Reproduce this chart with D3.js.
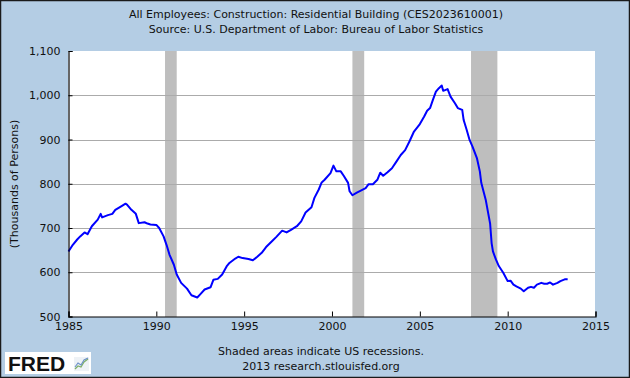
<!DOCTYPE html>
<html>
<head>
<meta charset="utf-8">
<script src="https://cdn.jsdelivr.net/npm/d3@7"></script>
<style>
  body { margin: 0; padding: 0; }
  text { font-family: "DejaVu Sans", Verdana, sans-serif; fill: #111; }
</style>
</head>
<body>
<div id="chart"></div>
<script>
// monthly readings (thousands of persons)
var months = ["1985-01","1985-04","1985-07","1985-09","1985-12","1986-02","1986-05","1986-09","1986-11","1986-12",
  "1987-04","1987-07","1987-09","1988-01","1988-04","1988-05","1988-08","1988-11","1989-01","1989-05",
  "1989-07","1989-09","1990-01","1990-03","1990-06","1990-08","1990-10","1991-01","1991-03","1991-06",
  "1991-10","1992-01","1992-05","1992-07","1992-10","1993-02","1993-04","1993-07","1993-10","1994-01",
  "1994-03","1994-07","1994-09","1994-12","1995-04","1995-07","1995-10","1996-01","1996-04","1996-08",
  "1996-11","1997-03","1997-06","1997-09","1998-01","1998-04","1998-07","1998-11","1999-01","1999-04",
  "1999-06","1999-08","1999-12","2000-02","2000-04","2000-07","2000-09","2000-12","2001-01","2001-03",
  "2001-06","2001-09","2001-12","2002-02","2002-05","2002-08","2002-10","2002-12","2003-03","2003-06",
  "2003-09","2003-12","2004-03","2004-06","2004-09","2005-01","2005-04","2005-06","2005-08","2005-10",
  "2005-12","2006-02","2006-04","2006-05","2006-08","2006-10","2007-01","2007-03","2007-06","2007-07",
  "2007-09","2007-11","2008-01","2008-04","2008-06","2008-07","2008-10","2009-01","2009-02","2009-03",
  "2009-05","2009-07","2009-10","2010-01","2010-03","2010-05","2010-07","2010-10","2010-12","2011-03",
  "2011-05","2011-07","2011-09","2011-12","2012-02","2012-04","2012-06","2012-08","2012-11","2013-01",
  "2013-04","2013-06"];

var employees = [647,662,674,681,690,686,704,719,732,724,
  729,732,741,749,755,753,741,732,711,713,
  710,708,707,700,681,662,640,617,595,576,
  563,548,543,550,561,566,583,585,595,613,
  621,631,635,632,630,627,635,644,657,670,
  680,694,690,696,704,715,735,747,768,787,
  803,809,824,841,828,828,818,802,783,774,
  780,785,790,799,799,809,825,818,826,835,
  850,865,876,896,918,935,952,965,971,990,
  1008,1016,1022,1010,1014,997,982,971,967,944,
  922,899,884,858,828,802,764,710,666,647,
  629,614,599,580,581,572,568,563,557,565,
  567,565,572,576,574,574,577,572,576,580,
  584,584];

// recession start / end months
var recessionStart = ["1990-07","2001-03","2007-12"];
var recessionEnd = ["1991-03","2001-11","2009-06"];

// tick labels
var yTicks = [500,600,700,800,900,1000,1100];
var xTickYears = [1985,1990,1995,2000,2005,2010,2015];

// define svg area
var svgWidth = 630;
var svgHeight = 378;

var margin = { top: 51, right: 35, bottom: 61, left: 68 };
var chartWidth = svgWidth - margin.left - margin.right;
var chartHeight = svgHeight - margin.top - margin.bottom;

var parseMonth = d3.timeParse("%Y-%m");

var svg = d3.select("#chart")
  .append("svg")
  .attr("width", svgWidth)
  .attr("height", svgHeight);

// light blue background with dark frame
svg.append("rect")
  .attr("x", 0.5).attr("y", 0.5)
  .attr("width", svgWidth - 1).attr("height", svgHeight - 1)
  .attr("fill", "#b4cde4")
  .attr("stroke", "#1a1a1a")
  .attr("stroke-width", 1.5);

// titles
svg.append("text")
  .attr("x", 316).attr("y", 18)
  .attr("text-anchor", "middle")
  .style("font-size", "11px")
  .text("All Employees: Construction: Residential Building (CES2023610001)");
svg.append("text")
  .attr("x", 316).attr("y", 33)
  .attr("text-anchor", "middle")
  .style("font-size", "11px")
  .text("Source: U.S. Department of Labor: Bureau of Labor Statistics");

var chartGroup = svg.append("g")
  .attr("transform", `translate(${margin.left}, ${margin.top})`);

// scales
var xScale = d3.scaleTime()
  .domain([new Date(1985, 0, 1), new Date(2015, 0, 1)])
  .range([0.5, chartWidth + 0.5]);

var yScale = d3.scaleLinear()
  .domain([500, 1100])
  .range([chartHeight - 0.5, 0]);

// plot area
chartGroup.append("rect")
  .attr("x", 0).attr("y", 0)
  .attr("width", chartWidth).attr("height", chartHeight)
  .attr("fill", "#ffffff");

// recession shading
chartGroup.selectAll(".recession")
  .data(recessionStart)
  .enter()
  .append("rect")
  .attr("class", "recession")
  .attr("x", d => xScale(parseMonth(d)))
  .attr("y", 0)
  .attr("width", (d, i) => xScale(parseMonth(recessionEnd[i])) - xScale(parseMonth(d)))
  .attr("height", chartHeight)
  .attr("fill", "#bebebe");

// horizontal grid
chartGroup.selectAll(".grid")
  .data(yTicks.filter(d => d > 500 && d < 1100))
  .enter()
  .append("line")
  .attr("class", "grid")
  .attr("x1", 0).attr("x2", chartWidth)
  .attr("y1", d => Math.round(yScale(d)) + 0.5)
  .attr("y2", d => Math.round(yScale(d)) + 0.5)
  .attr("stroke", "#ababab")
  .attr("stroke-width", 1);

// data line
var line = d3.line()
  .x((d, i) => xScale(parseMonth(months[i])))
  .y(d => yScale(d));

chartGroup.append("path")
  .datum(employees)
  .attr("d", line)
  .attr("fill", "none")
  .attr("stroke", "#0000ff")
  .attr("stroke-width", 2)
  .attr("stroke-linejoin", "round");

// axes, ticks point inward
var leftAxis = d3.axisLeft(yScale)
  .tickValues(yTicks)
  .tickSize(-4)
  .tickPadding(8)
  .tickFormat(d3.format(","));

var bottomAxis = d3.axisBottom(xScale)
  .tickValues(xTickYears.map(y => new Date(y, 0, 1)))
  .tickSize(-5)
  .tickPadding(6)
  .tickFormat(d3.timeFormat("%Y"));

var yAxisG = chartGroup.append("g")
  .attr("transform", "translate(0.5, 0)")
  .call(leftAxis);

var xAxisG = chartGroup.append("g")
  .attr("transform", `translate(0, ${chartHeight - 0.5})`)
  .call(bottomAxis);

[yAxisG, xAxisG].forEach(function(g) {
  g.select(".domain").attr("stroke", "#000").attr("stroke-width", 1.2);
  g.selectAll(".tick line").attr("stroke", "#000");
  g.selectAll(".tick text")
    .style("font-size", "11px")
    .style("font-family", "DejaVu Sans, Verdana, sans-serif")
    .attr("fill", "#111");
});

// y axis title
svg.append("text")
  .attr("transform", "rotate(-90)")
  .attr("x", -(margin.top + chartHeight / 2))
  .attr("y", 18)
  .attr("text-anchor", "middle")
  .style("font-size", "11px")
  .text("(Thousands of Persons)");

// footer notes
svg.append("text")
  .attr("x", 321).attr("y", 355)
  .attr("text-anchor", "middle")
  .style("font-size", "11px")
  .text("Shaded areas indicate US recessions.");
svg.append("text")
  .attr("x", 321).attr("y", 370)
  .attr("text-anchor", "middle")
  .style("font-size", "11px")
  .text("2013 research.stlouisfed.org");

// FRED logo
var logo = svg.append("g").attr("transform", "translate(5, 352)");
logo.append("rect")
  .attr("width", 86).attr("height", 22)
  .attr("fill", "#ffffff");
logo.append("text")
  .attr("x", 3).attr("y", 19)
  .style("font-family", "Liberation Sans, Arial, sans-serif")
  .style("font-size", "21px")
  .style("font-weight", "bold")
  .attr("fill", "#111")
  .text("FRED");
logo.append("rect")
  .attr("x", 69).attr("y", 5).attr("width", 15).attr("height", 14)
  .attr("fill", "#eef2f6");
logo.append("polyline")
  .attr("points", "70,17 73,14 76,15 79,10 83,7")
  .attr("fill", "none").attr("stroke", "#7fb069").attr("stroke-width", 1.3);
logo.append("polyline")
  .attr("points", "70,15 73,11 76,13 79,8 83,6")
  .attr("fill", "none").attr("stroke", "#6a8fc7").attr("stroke-width", 1.1);
</script>
</body>
</html>
